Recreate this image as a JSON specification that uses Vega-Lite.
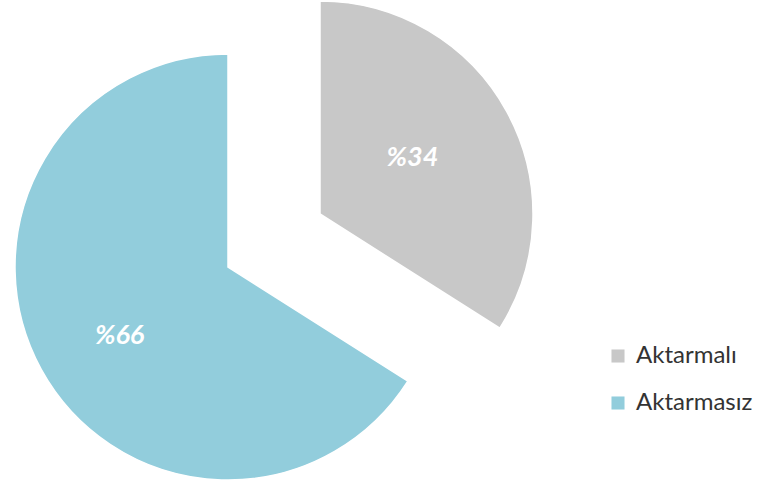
{
  "$schema": "https://vega.github.io/schema/vega-lite/v6.json",
  "width": 456,
  "height": 430,
  "autosize": "none",
  "padding": {"top": 52, "left": 0, "right": 308, "bottom": 10},
  "background": "white",
  "config": {"view": {"stroke": null}, "font": "Lato"},
  "data": {"values": [
    {"kategori": "Aktarmalı", "yuzde": 34, "etiket": "%34"},
    {"kategori": "Aktarmasız", "yuzde": 66, "etiket": "%66"}
  ]},
  "encoding": {
    "theta": {"field": "yuzde", "type": "quantitative", "stack": true},
    "color": {
      "field": "kategori", "type": "nominal",
      "sort": ["Aktarmalı", "Aktarmasız"],
      "scale": {"domain": ["Aktarmalı", "Aktarmasız"], "range": ["#C8C8C8", "#92CDDC"]},
      "legend": {
        "title": null, "orient": "none", "legendX": 606, "legendY": 292,
        "symbolType": "square", "symbolSize": 170, "labelFontSize": 24,
        "labelFont": "Lato", "labelColor": "#333333", "rowPadding": 23, "symbolStrokeWidth": 0,
        "labelOffset": 6
      }
    }
  },
  "layer": [
    {
      "mark": {
        "type": "arc", "outerRadius": 213, "stroke": "white", "strokeWidth": 1.5,
        "xOffset": {"expr": "datum.kategori == 'Aktarmalı' ? 92 : 0"},
        "yOffset": {"expr": "datum.kategori == 'Aktarmalı' ? -53 : 0"}
      }
    },
    {
      "mark": {
        "type": "text", "radius": 118, "fontSize": 27, "fontWeight": "bold", "fontStyle": "italic",
        "fill": "white", "font": "Lato",
        "xOffset": {"expr": "datum.kategori == 'Aktarmalı' ? 81 : -5"},
        "yOffset": {"expr": "datum.kategori == 'Aktarmalı' ? -52 : 12"}
      },
      "encoding": {
        "text": {"field": "etiket", "type": "nominal"},
        "color": {"value": "white"}
      }
    }
  ]
}
